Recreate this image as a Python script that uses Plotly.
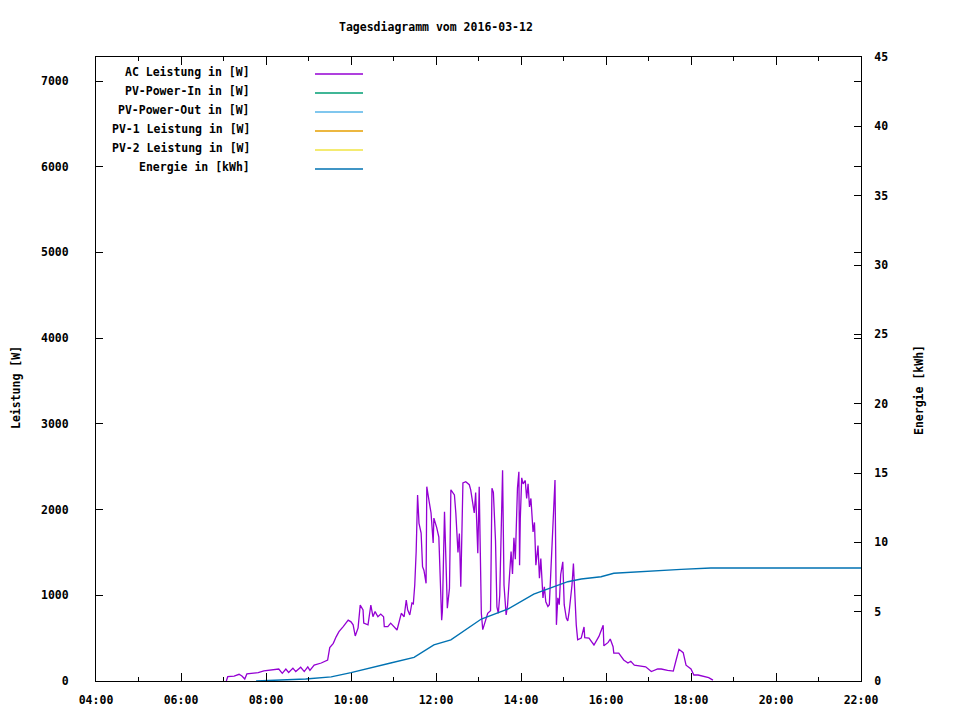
import plotly.graph_objects as go

DAY = "2016-03-12 "

# AC Leistung [W]
ac_time = ["07:04","07:06","07:15","07:22","07:26","07:30","07:33","07:39","07:49","07:57",
           "08:07","08:18","08:23","08:28","08:32","08:38","08:42","08:49","08:54","08:59",
           "09:02","09:08","09:18","09:27","09:30","09:35","09:39","09:43","09:49","09:56",
           "10:00","10:03","10:06","10:10","10:13","10:17","10:18","10:24","10:28","10:31",
           "10:34","10:38","10:42","10:46","10:47","10:52","10:56","11:01","11:05","11:11",
           "11:15","11:18","11:20","11:23","11:26","11:28","11:30","11:32","11:34","11:36",
           "11:39","11:41","11:43","11:46","11:47","11:50","11:53","11:56","11:57","12:01",
           "12:04","12:08","12:09","12:12","12:14","12:16","12:19","12:21","12:26","12:28",
           "12:31","12:33","12:35","12:38","12:42","12:47","12:49","12:52","12:54","12:56",
           "12:59","13:01","13:04","13:06","13:08","13:13","13:17","13:19","13:21","13:24",
           "13:26","13:28","13:30","13:32","13:34","13:36","13:39","13:41","13:43","13:46",
           "13:48","13:50","13:52","13:54","13:55","13:57","13:58","13:59","14:01","14:03",
           "14:06","14:08","14:10","14:12","14:14","14:17","14:19","14:21","14:24","14:26",
           "14:28","14:31","14:33","14:35","14:38","14:40","14:42","14:45","14:47","14:48",
           "14:50","14:52","14:54","14:56","14:59","15:01","15:04","15:06","15:08","15:12",
           "15:14","15:16","15:18","15:20","15:25","15:29","15:30","15:36","15:43","15:50",
           "15:56","15:57","16:03","16:06","16:10","16:11","16:18","16:25","16:31","16:35",
           "16:40","16:56","17:04","17:13","17:18","17:27","17:35","17:39","17:43","17:49",
           "17:53","18:00","18:04","18:10","18:18","18:25","18:31"]
ac_power = [0, 50, 58, 78, 58, 23, 82, 90, 97, 117,
            128, 140, 90, 140, 100, 150, 110, 160, 110, 165,
            125, 185, 210, 245, 390, 440, 515, 575, 635, 710,
            690, 655, 525, 620, 885, 830, 675, 655, 885, 750,
            810, 750, 780, 750, 635, 635, 675, 635, 595, 790,
            750, 945, 830, 770, 910, 900, 1120, 1510, 2170, 1840,
            1725, 1333, 1290, 1140, 2267, 2110, 1960, 1610, 1900, 1790,
            1680, 710, 810, 1975, 1295, 850, 1080, 2230, 2170, 1960,
            1500, 1720, 1100, 2310, 2325, 2290, 2230, 2075, 1960, 2200,
            1490, 2265, 790, 600, 660, 790, 820, 2250, 2200, 1640,
            865, 790, 1000, 1740, 2460, 1120, 770, 880, 1100, 1510,
            1250, 1670, 1420, 1975, 2250, 2440, 1350, 1890, 2370, 2300,
            2340, 2130, 2300, 2030, 2130, 1740, 1850, 1350, 1580, 1200,
            1430, 970, 1100, 925, 870, 890, 1240, 1740, 2020, 2345,
            655, 970, 890, 1240, 1390, 890, 735, 700, 810, 1120,
            1370, 890, 655, 480, 500, 630, 505, 500, 420, 520,
            650, 410, 450, 490, 400, 325, 325, 245, 210, 230,
            185, 165, 110, 140, 140, 125, 115, 245, 370, 330,
            185, 140, 70, 70, 50, 40, 10]

# Energie [kWh]
en_time = ["07:46","08:21","08:56","09:32","10:00","10:56","11:29","11:57","12:21","13:04",
           "13:42","14:18","15:06","15:25","15:53","16:11","16:59","17:46","18:28","22:00"]
en_kwh = [0.0, 0.07, 0.14, 0.3, 0.6, 1.3, 1.7, 2.6, 2.96, 4.47,
          5.2, 6.27, 7.16, 7.36, 7.52, 7.77, 7.93, 8.05, 8.15, 8.15]

key_labels = ["AC Leistung in [W]", "PV-Power-In in [W]", "PV-Power-Out in [W]",
              "PV-1 Leistung in [W]", "PV-2 Leistung in [W]", "Energie in [kWh]"]
key_colors = ["#9400D3", "#009E73", "#56B4E9", "#E69F00", "#F0E442", "#0072B2"]

FONT = dict(family="DejaVu Sans Mono", size=11.5, color="black", weight="bold")

fig = go.Figure()
fig.add_trace(go.Scatter(x=[DAY + t for t in ac_time], y=ac_power, mode="lines",
                         line=dict(color=key_colors[0], width=1.3), name=key_labels[0]))
fig.add_trace(go.Scatter(x=[DAY + t for t in en_time], y=en_kwh, mode="lines", yaxis="y2",
                         line=dict(color=key_colors[5], width=1.4), name=key_labels[5]))

# target plot-area edges in window pixels; page body has an 8px offset
OFF_X, OFF_Y = 7, 8
L, R, T, B = 95, 860, 57, 681
def px(x):
    return (x - L) / (R - L)
def py(y):
    return (B - y) / (B - T)

shapes = []
annotations = []
for i, (lab, col) in enumerate(zip(key_labels, key_colors)):
    yy = 72 + 19 * i
    annotations.append(dict(x=px(251), y=py(yy), xref="paper", yref="paper", text=lab,
                            showarrow=False, xanchor="right", yanchor="middle", font=FONT))
    shapes.append(dict(type="line", xref="paper", yref="paper", x0=px(314), x1=px(362),
                       y0=py(yy + 2), y1=py(yy + 2), line=dict(color=col, width=1.4)))

annotations.append(dict(x=px(435), y=py(27), xref="paper", yref="paper",
                        text="Tagesdiagramm vom 2016-03-12", showarrow=False,
                        xanchor="center", yanchor="middle", font=FONT))
annotations.append(dict(x=px(15), y=py(388), xref="paper", yref="paper", text="Leistung [W]",
                        textangle=-90, showarrow=False, xanchor="center", yanchor="middle", font=FONT))
annotations.append(dict(x=px(918), y=py(390), xref="paper", yref="paper", text="Energie [kWh]",
                        textangle=-90, showarrow=False, xanchor="center", yanchor="middle", font=FONT))

fig.update_layout(
    width=960, height=720,
    margin=dict(l=L - OFF_X, r=960 - R + OFF_X, t=T - OFF_Y, b=720 - B + OFF_Y, autoexpand=False),
    paper_bgcolor="white", plot_bgcolor="white",
    showlegend=False,
    font=FONT,
    shapes=shapes, annotations=annotations,
    xaxis=dict(type="date", range=[DAY + "04:00", DAY + "22:00"],
               tick0=DAY + "04:00", dtick=7200000, tickformat="%H:%M",
               ticks="inside", ticklen=8, tickcolor="black", tickwidth=1,
               minor=dict(dtick=3600000, ticks="inside", ticklen=4, tickcolor="black"),
               showline=True, linecolor="black", linewidth=1, mirror="ticks",
               showgrid=False, zeroline=False, tickfont=FONT, ticklabelstandoff=8),
    yaxis=dict(range=[0, 7280], tickvals=[0, 1000, 2000, 3000, 4000, 5000, 6000, 7000],
               ticks="inside", ticklen=7, tickcolor="black",
               showline=True, linecolor="black", linewidth=1, mirror="ticks",
               showgrid=False, zeroline=False, tickfont=FONT, ticklabelstandoff=24),
    yaxis2=dict(range=[0, 45], tickvals=list(range(0, 50, 5)), overlaying="y", side="right",
                ticks="inside", ticklen=7, tickcolor="black",
                showline=True, linecolor="black", linewidth=1,
                showgrid=False, zeroline=False, tickfont=FONT, ticklabelstandoff=10),
)

fig.write_html("out.html")
